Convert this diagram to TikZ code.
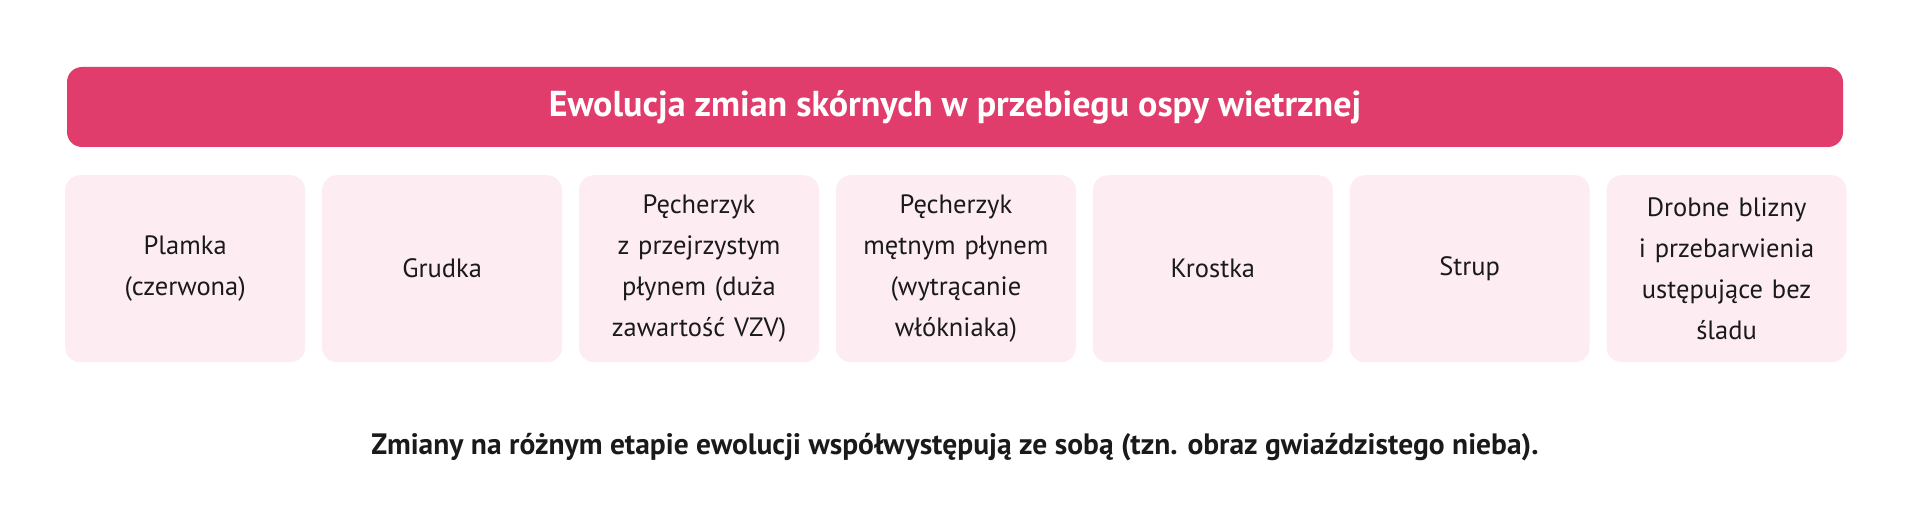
\documentclass[tikz,border=0pt]{standalone}
\usepackage{fontspec}
\setmainfont{PT Sans}
\usetikzlibrary{positioning}
\definecolor{titlered}{HTML}{E03D6C}
\definecolor{stagepink}{HTML}{FDEDF3}
\definecolor{stagetext}{HTML}{1A1A1A}

\begin{document}
\begin{tikzpicture}[x=1pt,y=1pt,
	titlebar/.style={fill=titlered, rounded corners=15pt, minimum width=1776pt, minimum height=80pt, text=white, font=\fontsize{36}{42}\selectfont\bfseries},
	stagebox/.style={fill=stagepink, rounded corners=15pt, minimum width=240pt, minimum height=187pt, text width=236pt, align=center, inner sep=2pt, text=stagetext, font=\fontsize{26.5}{41}\selectfont},
	note/.style={text=stagetext, font=\fontsize{29.5}{34}\selectfont\bfseries}
	]
	\useasboundingbox (0,0) rectangle (1920,-532);
	\node[titlebar] (title) at (955,-107) {Ewolucja zmian skórnych w przebiegu ospy wietrznej};

	% stages, left to right
	\node[stagebox, anchor=north west] (plamka) at (65,-175) {Plamka\\(czerwona)};
	\node[stagebox, right=16.5pt of plamka] (grudka) {Grudka};
	\node[stagebox, right=16.5pt of grudka] (przejrzysty) {Pęcherzyk\\z przejrzystym\\płynem (duża\\zawartość VZV)};
	\node[stagebox, right=16.5pt of przejrzysty] (metny) {Pęcherzyk\\mętnym płynem\\(wytrącanie\\włókniaka)};
	\node[stagebox, right=16.5pt of metny] (krostka) {Krostka};
	\node[stagebox, right=16.5pt of krostka] (strup) {Strup};
	\node[stagebox, right=16.5pt of strup] (blizny) {Drobne blizny\\i przebarwienia\\ustępujące bez\\śladu};

	\node[note] (uwaga) at (955,-447) {Zmiany na różnym etapie ewolucji współwystępują ze sobą (tzn. obraz gwiaździstego nieba).};
\end{tikzpicture}
\end{document}
